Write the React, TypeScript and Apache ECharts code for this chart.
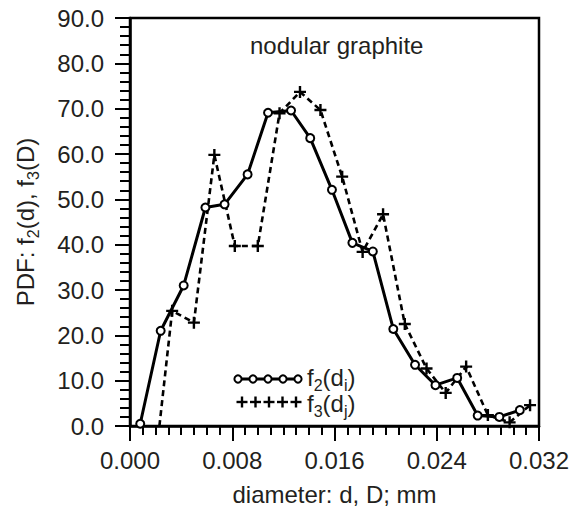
import React, { useEffect, useRef } from 'react';
import * as echarts from 'echarts';

// ---- data ----
const f2Diameter = [0.0008, 0.0024, 0.0042, 0.0059, 0.0074, 0.0092, 0.0108, 0.0126, 0.0141, 0.0158, 0.0174, 0.0190, 0.0206, 0.0223, 0.0239, 0.0256, 0.0272, 0.0289, 0.0305];
const f2Pdf = [0.5, 21.0, 31.0, 48.2, 48.9, 55.5, 69.1, 69.6, 63.5, 52.1, 40.4, 38.5, 21.4, 13.5, 9.0, 10.6, 2.3, 2.0, 3.5];
const f3Diameter = [0.0023, 0.0033, 0.0050, 0.0066, 0.0082, 0.0100, 0.0117, 0.0133, 0.0149, 0.0166, 0.0182, 0.0198, 0.0215, 0.0232, 0.0247, 0.0263, 0.0280, 0.0297, 0.0313];
const f3Pdf = [0, 25.4, 22.8, 59.8, 39.7, 39.7, 69.0, 73.7, 69.7, 55.0, 38.4, 46.7, 22.5, 12.7, 7.3, 13.1, 2.4, 0.8, 4.6];

const xRange = { min: 0, max: 0.032, step: 0.008, minorSplits: 8 };
const yRange = { min: 0, max: 90, step: 10, minorSplits: 5 };

const titleText = 'nodular graphite';
const xName = 'diameter: d, D; mm';
const yName = 'PDF: f{s|2}(d), f{s|3}(D)';
const legendF2 = 'f{s|2}(d{s|i})';
const legendF3 = 'f{s|3}(d{s|j})';

const TEXT = '#231f20';
const FONT = '"Liberation Sans", Arial, Helvetica, sans-serif';
const PLUS = 'path://M4,0H6V4H10V6H6V10H4V6H0V4H4Z';

export default function App() {
  const ref = useRef<HTMLDivElement>(null);
  useEffect(() => {
    if (!ref.current) return;
    const chart = echarts.init(ref.current, null, { renderer: 'svg' });
    const rich = {
      s: { fontSize: 16, fontFamily: FONT, color: TEXT, padding: [16, 0, 0, 0] },
    };

    const legendCircles = [238, 253, 268, 283, 298].map((cx) => ({
      type: 'circle', shape: { cx, cy: 379, r: 3.6 },
      style: { fill: '#fff', stroke: '#000', lineWidth: 2 }, z: 101,
    }));
    const legendPlus: any[] = [];
    [242, 255.5, 269, 282.5, 296].forEach((cx) => {
      legendPlus.push({ type: 'rect', shape: { x: cx - 5.5, y: 402 - 1.2, width: 11, height: 2.4 }, style: { fill: '#000' }, z: 101 });
      legendPlus.push({ type: 'rect', shape: { x: cx - 1.2, y: 402 - 5.5, width: 2.4, height: 11 }, style: { fill: '#000' }, z: 101 });
    });

    chart.setOption({
      animation: false,
      backgroundColor: '#fff',
      textStyle: { fontFamily: FONT, color: TEXT },
      grid: {
        left: 130, right: 30, top: 18, bottom: 80,
        show: true, borderColor: '#000', borderWidth: 2.5, backgroundColor: 'transparent',
        containLabel: false, outerBoundsMode: 'none',
      },
      xAxis: {
        type: 'value', min: xRange.min, max: xRange.max, interval: xRange.step,
        name: xName, nameLocation: 'middle', nameGap: 56,
        nameTextStyle: { fontSize: 24, fontFamily: FONT, color: TEXT },
        axisLine: { show: true, lineStyle: { color: '#000', width: 2.5 } },
        axisTick: { show: true, inside: false, length: 15, lineStyle: { color: '#000', width: 2 } },
        minorTick: { show: true, splitNumber: xRange.minorSplits, length: 9, lineStyle: { color: '#000', width: 2 } },
        splitLine: { show: false }, minorSplitLine: { show: false },
        axisLabel: { fontSize: 24, fontFamily: FONT, color: TEXT, margin: 22, formatter: (v: number) => v.toFixed(3) },
      },
      yAxis: {
        type: 'value', min: yRange.min, max: yRange.max, interval: yRange.step,
        name: yName, nameLocation: 'middle', nameGap: 89, nameRotate: 90,
        nameTextStyle: { fontSize: 24, fontFamily: FONT, color: TEXT, rich },
        axisLine: { show: true, lineStyle: { color: '#000', width: 2.5 } },
        axisTick: { show: true, inside: false, length: 15, lineStyle: { color: '#000', width: 2 } },
        minorTick: { show: true, splitNumber: yRange.minorSplits, length: 10, lineStyle: { color: '#000', width: 2 } },
        splitLine: { show: false }, minorSplitLine: { show: false },
        axisLabel: { fontSize: 24, fontFamily: FONT, color: TEXT, margin: 26, formatter: (v: number) => v.toFixed(1) },
      },
      series: [
        {
          name: 'f3', type: 'line',
          data: f3Diameter.map((d, i) => (i === 0 ? { value: [d, f3Pdf[i]], symbol: 'none' } : [d, f3Pdf[i]])),
          lineStyle: { color: '#000', width: 2.6, type: [6, 4] },
          symbol: PLUS, symbolSize: 12,
          itemStyle: { color: '#000' },
          z: 2,
        },
        {
          name: 'f2', type: 'line',
          data: f2Diameter.map((d, i) => [d, f2Pdf[i]]),
          lineStyle: { color: '#000', width: 3 },
          symbol: 'emptyCircle', symbolSize: 8,
          itemStyle: { color: '#000', borderWidth: 2 },
          z: 3,
        },
      ],
      graphic: [
        {
          type: 'text', x: 250, y: 45, z: 100,
          style: { text: titleText, fontSize: 24, fontFamily: FONT, fill: TEXT, verticalAlign: 'middle', align: 'left' },
        },
        { type: 'line', shape: { x1: 238, y1: 379, x2: 298, y2: 379 }, style: { stroke: '#000', lineWidth: 3 }, z: 100 },
        ...legendCircles,
        ...legendPlus,
        {
          type: 'text', x: 307, y: 377, z: 100,
          style: { text: legendF2, rich, fontSize: 24, fontFamily: FONT, fill: TEXT, verticalAlign: 'middle', align: 'left' },
        },
        {
          type: 'text', x: 307, y: 403, z: 100,
          style: { text: legendF3, rich, fontSize: 24, fontFamily: FONT, fill: TEXT, verticalAlign: 'middle', align: 'left' },
        },
      ],
    });
    return () => chart.dispose();
  }, []);
  return <div ref={ref} style={{ position: 'fixed', left: 0, top: 0, width: 569, height: 506, background: '#fff' }} />;
}
